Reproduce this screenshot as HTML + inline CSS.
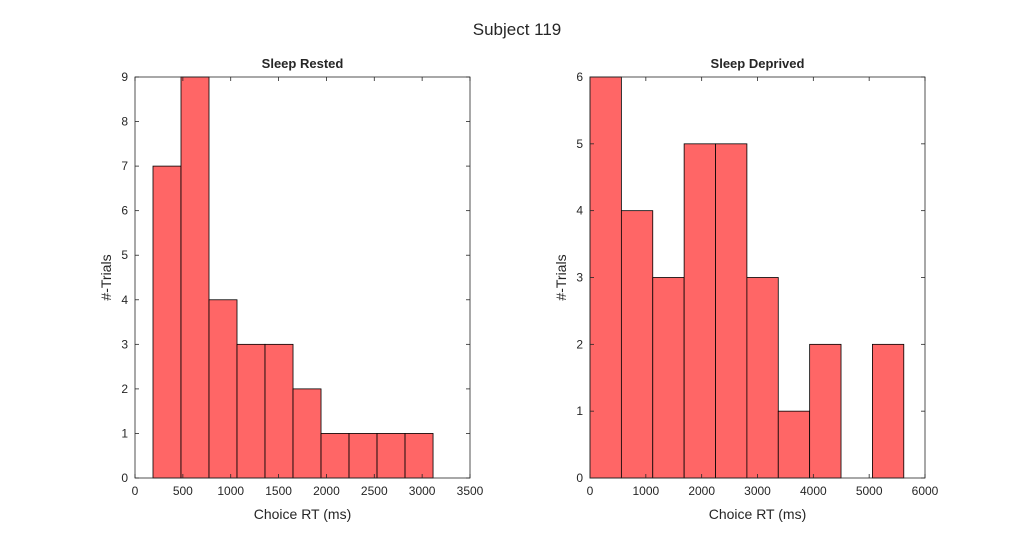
<!DOCTYPE html>
<html><head><meta charset="utf-8"><style>
body{margin:0;background:#fff;}
svg text{font-family:"Liberation Sans",Arial,sans-serif;fill:#262626;}
</style></head><body>
<svg id="c" width="1034" height="533" xmlns="http://www.w3.org/2000/svg">
<rect width="1034" height="533" fill="#fff"/>
<text x="517" y="35" font-size="17" text-anchor="middle" fill="#000">Subject 119</text>
</svg>
<script>
// Sleep Rested
const restedEdgeStart = 188, restedBinWidth = 292.6;
const restedCounts = [7,9,4,3,3,2,1,1,1,1];
const restedXTicks = [0,500,1000,1500,2000,2500,3000,3500];
const restedYTicks = [0,1,2,3,4,5,6,7,8,9];
// Sleep Deprived
const deprivedEdgeStart = 0, deprivedBinWidth = 562;
const deprivedCounts = [6,4,3,5,5,3,1,2,0,2];
const deprivedXTicks = [0,1000,2000,3000,4000,5000,6000];
const deprivedYTicks = [0,1,2,3,4,5,6];

const svg=document.getElementById('c');
const NS='http://www.w3.org/2000/svg';
function mk(tag,attrs,parent){const e=document.createElementNS(NS,tag);for(const k in attrs)e.setAttribute(k,attrs[k]);(parent||svg).appendChild(e);return e;}

function panel(cfg){
  const {x0,x1,y0,y1,xmax,ymax,start,bw,counts,xt,yt,title,prefix}=cfg;
  const g=mk('g',{});
  
  
  const sx=v=>x0+(v/xmax)*(x1-x0);
  const sy=v=>y0-(v/ymax)*(y0-y1);
  counts.forEach((c,i)=>{
    if(c<=0)return;
    const a=sx(start+i*bw), b=sx(start+(i+1)*bw);
    const r=mk('rect',{x:a,y:sy(c),width:b-a,height:sy(0)-sy(c),fill:'#ff6666',stroke:'#000','stroke-width':0.8},g);
    
    
  });
  const box=mk('rect',{x:x0,y:y1,width:x1-x0,height:y0-y1,fill:'none',stroke:'#262626','stroke-width':0.8},g);
  
  
  xt.forEach(v=>{
    const x=sx(v);
    mk('line',{x1:x,x2:x,y1:y0,y2:y0-4,stroke:'#262626','stroke-width':0.8},g);
    mk('line',{x1:x,x2:x,y1:y1,y2:y1+4,stroke:'#262626','stroke-width':0.8},g);
    const t=mk('text',{x:x,y:y0+17,'font-size':12,'text-anchor':'middle'},g);
    t.textContent=v;
    
    
  });
  yt.forEach(v=>{
    const y=sy(v);
    mk('line',{x1:x0,x2:x0+4,y1:y,y2:y,stroke:'#262626','stroke-width':0.8},g);
    mk('line',{x1:x1,x2:x1-4,y1:y,y2:y,stroke:'#262626','stroke-width':0.8},g);
    const t=mk('text',{x:x0-7,y:y+4,'font-size':12,'text-anchor':'end'},g);
    t.textContent=v;
    
    
  });
  const tt=mk('text',{x:(x0+x1)/2,y:y1-9,'font-size':13,'font-weight':'bold','text-anchor':'middle',fill:'#000'},g);
  tt.textContent=title;
  
  
  const xl=mk('text',{x:(x0+x1)/2,y:y0+41,'font-size':14,'text-anchor':'middle'},g);
  xl.textContent='Choice RT (ms)';
  
  
  const cy=(y0+y1)/2, cx=x0-24;
  const yl=mk('text',{x:cx,y:cy,'font-size':14,'text-anchor':'middle',transform:`rotate(-90 ${cx} ${cy})`},g);
  yl.textContent='#-Trials';
  
  
}
panel({x0:135,x1:470,y0:478,y1:77,xmax:3500,ymax:9,start:restedEdgeStart,bw:restedBinWidth,counts:restedCounts,xt:restedXTicks,yt:restedYTicks,title:'Sleep Rested',prefix:'rested'});
panel({x0:590,x1:925,y0:478,y1:77,xmax:6000,ymax:6,start:deprivedEdgeStart,bw:deprivedBinWidth,counts:deprivedCounts,xt:deprivedXTicks,yt:deprivedYTicks,title:'Sleep Deprived',prefix:'deprived'});
</script>
</body></html>
